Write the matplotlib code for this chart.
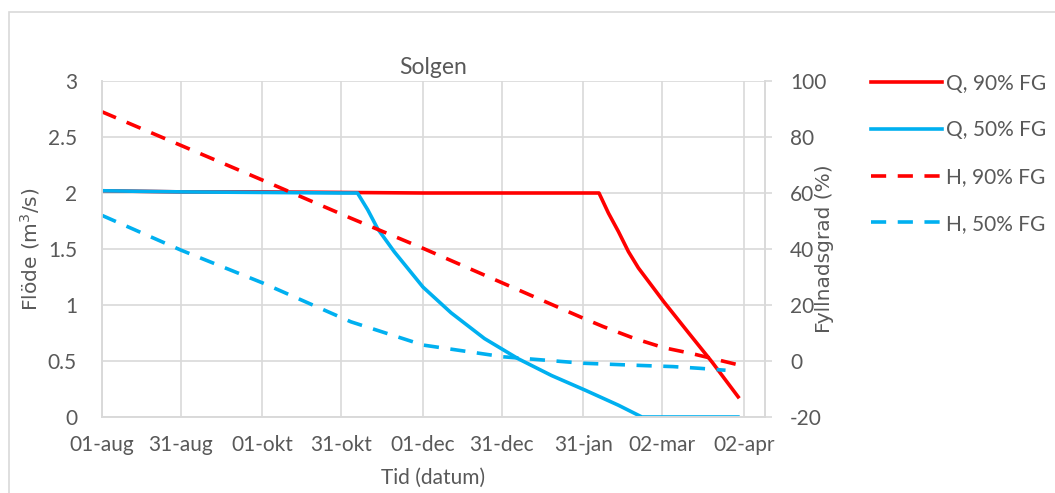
import matplotlib.pyplot as plt
from matplotlib.patches import Rectangle

# days counted from 01-aug
tick_days = [0, 30, 61, 91, 122, 152, 183, 213, 244]
tick_labels = ['01-aug', '31-aug', '01-okt', '31-okt', '01-dec',
               '31-dec', '31-jan', '02-mar', '02-apr']

# flow (m3/s), left axis
q90_days = [0, 30, 61, 91, 122, 152, 183, 188.9, 192.5, 196.3, 200.1,
            203.9, 213.5, 223.0, 231.9, 237.0, 241.8]
q90_vals = [2.02, 2.01, 2.01, 2.005, 2.0, 2.0, 2.0, 2.0, 1.82, 1.655, 1.476,
            1.33, 1.03, 0.75, 0.49, 0.33, 0.18]

q50_days = [0, 30, 61, 91, 97.1, 101, 104.8, 111.1, 122, 132.7, 145.4,
            158.2, 170.9, 183.6, 196.3, 205.2, 241.7]
q50_vals = [2.02, 2.01, 2.005, 2.0, 2.0, 1.85, 1.68, 1.475, 1.16, 0.93,
            0.70, 0.52, 0.37, 0.24, 0.105, 0.0, 0.0]

# fill degree (%), right axis
h90_days = [0, 30, 61, 94.6, 122, 152.5, 183, 190.6, 202.5, 213.5, 224, 242]
h90_vals = [89, 77, 64.6, 51, 40.25, 27.75, 15.25, 12.25, 8, 4.75, 2.7, -1.4]

h50_days = [0, 30, 61, 94.6, 122, 152.5, 183, 205, 217, 227, 237]
h50_vals = [52, 39.6, 27.9, 14.0, 5.7, 1.5, -0.8, -1.6, -2.0, -2.6, -3.3]

red = '#FF0000'
blue = '#00B0F0'
grey = '#595959'
gridc = '#D9D9D9'

plt.rcParams['font.family'] = ['Lato', 'DejaVu Sans']
plt.rcParams['font.size'] = 15
plt.rcParams['axes.unicode_minus'] = False

fig = plt.figure(figsize=(10.55, 4.93), dpi=100)
fig.patches.append(Rectangle((9 / 1055, -0.1), 1.2, 1 - 12 / 493 + 0.1,
                             transform=fig.transFigure, fill=False,
                             edgecolor=gridc, lw=1.2))

ax = fig.add_axes([102 / 1055, 1 - 417 / 493, 663 / 1055, 336 / 493])
ax2 = ax.twinx()

lw = 2.6
l1, = ax.plot(q90_days, q90_vals, color=red, lw=lw, label='Q, 90% FG',
              solid_joinstyle='round')
l2, = ax.plot(q50_days, q50_vals, color=blue, lw=lw, label='Q, 50% FG',
              solid_joinstyle='round')
l3, = ax2.plot(h90_days, h90_vals, color=red, lw=lw, dashes=(4.2, 3.2),
               label='H, 90% FG')
l4, = ax2.plot(h50_days, h50_vals, color=blue, lw=lw, dashes=(4.2, 3.2),
               label='H, 50% FG')

ax.set_xlim(0, 252)
ax.set_ylim(0, 3)
ax2.set_ylim(-20, 100)
ax.set_xticks(tick_days)
ax.set_xticklabels(tick_labels)
ax.set_yticks([0, 0.5, 1, 1.5, 2, 2.5, 3])
ax.set_yticklabels(['0', '0.5', '1', '1.5', '2', '2.5', '3'])
ax2.set_yticks([-20, 0, 20, 40, 60, 80, 100])

ax.grid(True, color=gridc, lw=1.2)
ax.set_axisbelow(True)
for a in (ax, ax2):
    for s in a.spines.values():
        s.set_color(gridc)
        s.set_linewidth(1.2)
    a.spines['top'].set_visible(False)

ax.tick_params(axis='x', length=0, pad=13, colors=grey)
ax.tick_params(axis='y', length=0, pad=18, colors=grey)
ax2.tick_params(axis='y', length=5, width=1.2, color=gridc, pad=13,
                labelcolor=grey)

ax.set_title('Solgen', color=grey, fontsize=16.5, pad=5)
ax.set_xlabel('Tid (datum)', color=grey)
ax.xaxis.set_label_coords(0.5, -0.15)
ax.set_ylabel('Flöde (m$^3$/s)', color=grey, fontsize=14.5,
              family='DejaVu Sans')
ax.yaxis.set_label_coords(-0.09, 0.5)
ax2.set_ylabel('Fyllnadsgrad (%)', color=grey, fontsize=14.5,
               family='DejaVu Sans')
ax2.yaxis.set_label_coords(1.075, 0.5)

leg = fig.legend(handles=[l1, l2, l3, l4], loc='upper left',
                 bbox_to_anchor=(852 / 1055, 1 - 55 / 493), frameon=False,
                 handlelength=3.4, handletextpad=0.2, labelspacing=1.28)
for t in leg.get_texts():
    t.set_color(grey)

fig.savefig('out.png', dpi=100)
